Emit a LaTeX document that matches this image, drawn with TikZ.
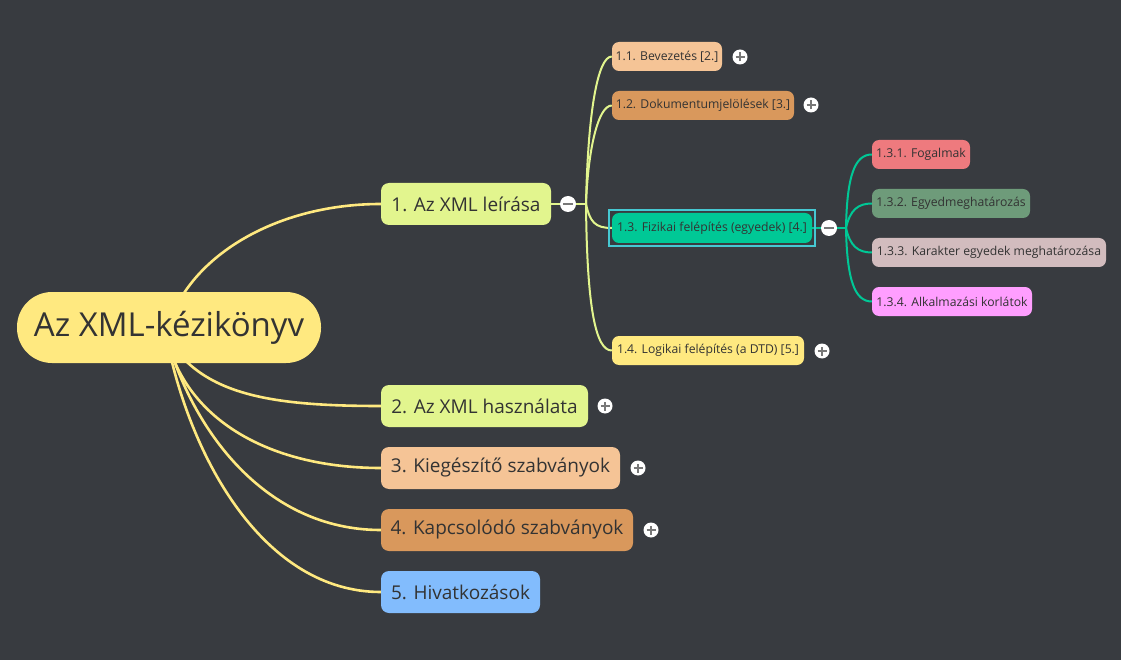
\documentclass[tikz,border=0pt]{standalone}
\usepackage{fontspec}
\setmainfont{Open Sans}
\usetikzlibrary{fit}
\definecolor{bgc}{RGB}{56,59,64}
\definecolor{txt}{RGB}{51,51,51}
\definecolor{rootc}{RGB}{255,233,128}
\definecolor{limec}{RGB}{226,245,142}
\definecolor{peach}{RGB}{245,196,150}
\definecolor{orangec}{RGB}{217,152,92}
\definecolor{bluec}{RGB}{130,188,253}
\definecolor{tealc}{RGB}{0,200,150}
\definecolor{redc}{RGB}{238,122,126}
\definecolor{greenc}{RGB}{110,155,122}
\definecolor{mauvec}{RGB}{210,188,190}
\definecolor{pinkc}{RGB}{255,158,255}
\definecolor{selc}{RGB}{70,200,210}
\definecolor{signc}{RGB}{120,120,120}
\pgfdeclarelayer{bg}
\pgfdeclarelayer{lines}
\pgfsetlayers{bg,lines,main}
\begin{document}
\begin{tikzpicture}[x=1pt,y=-1pt,
  rootbox/.style={fill=rootc, rounded corners=35pt, inner sep=0pt, text=txt,
    minimum width=304pt, minimum height=71pt, font=\fontsize{33}{38}\selectfont},
  bigbox/.style={rounded corners=8pt, inner sep=0pt, text=txt,
    minimum height=42pt, font=\fontsize{19}{22}\selectfont},
  smallbox/.style={rounded corners=7pt, inner sep=0pt, text=txt,
    minimum height=29pt, font=\fontsize{12.2}{14}\selectfont},
  rootline/.style={draw=rootc, line width=2.6pt},
  limeline/.style={draw=limec, line width=2pt},
  tealline/.style={draw=tealc, line width=2pt},
  plusbtn/.style={circle, fill=white, minimum size=15pt, inner sep=0pt,
    path picture={\draw[signc, line width=2pt]
      ([xshift=-4.5pt]path picture bounding box.center) -- ([xshift=4.5pt]path picture bounding box.center)
      ([yshift=-4.5pt]path picture bounding box.center) -- ([yshift=4.5pt]path picture bounding box.center);}},
  minusbtn/.style={circle, fill=white, minimum size=16pt, inner sep=0pt,
    path picture={\draw[signc, line width=2pt]
      ([xshift=-5pt]path picture bounding box.center) -- ([xshift=5pt]path picture bounding box.center);}}
]
\useasboundingbox (0,0) rectangle (1121,660);
\begin{pgfonlayer}{bg}
  \fill[bgc] (0,0) rectangle (1121,660);
\end{pgfonlayer}

% nodes
\node[rootbox] (root) at (169,327.5) {Az XML-kézikönyv};
\node[bigbox, fill=limec, minimum width=170pt] (n1) at (466,204) {1. Az XML leírása};
\node[bigbox, fill=limec, minimum width=207pt] (n2) at (484.5,406) {2. Az XML használata};
\node[bigbox, fill=peach, minimum width=239pt] (n3) at (500.5,468) {3. Kiegészítő szabványok};
\node[bigbox, fill=orangec, minimum width=252pt] (n4) at (507,530) {4. Kapcsolódó szabványok};
\node[bigbox, fill=bluec, minimum width=159pt] (n5) at (460.5,592) {5. Hivatkozások};

\node[smallbox, fill=peach, minimum width=110pt] (n11) at (667,56.5) {1.1. Bevezetés [2.]};
\node[smallbox, fill=orangec, minimum width=182pt] (n12) at (703,105.5) {1.2. Dokumentumjelölések [3.]};
\node[smallbox, fill=tealc, minimum width=200pt, minimum height=30pt] (n13) at (712,228) {1.3. Fizikai felépítés (egyedek) [4.]};
\node[smallbox, fill=rootc, minimum width=192pt] (n14) at (708,350.5) {1.4. Logikai felépítés (a DTD) [5.]};

\node[smallbox, fill=redc, minimum width=98pt] (n131) at (921,154.5) {1.3.1. Fogalmak};
\node[smallbox, fill=greenc, minimum width=158pt] (n132) at (951,203.5) {1.3.2. Egyedmeghatározás};
\node[smallbox, fill=mauvec, minimum width=234pt] (n133) at (989,252.5) {1.3.3. Karakter egyedek meghatározása};
\node[smallbox, fill=pinkc, minimum width=160pt] (n134) at (952,301.5) {1.3.4. Alkalmazási korlátok};

\node[draw=selc, line width=2pt, inner sep=3pt, fit=(n13)] (sel) {};

% buttons
\node[minusbtn] (m1) at (568,204) {};
\node[minusbtn] (m13) at (829,228) {};
\node[plusbtn] (p11) at (740,57) {};
\node[plusbtn] (p12) at (811,105) {};
\node[plusbtn] (p14) at (822,351) {};
\node[plusbtn] (p2) at (605,406) {};
\node[plusbtn] (p3) at (638,468) {};
\node[plusbtn] (p4) at (651,530) {};

\coordinate (rs) at (166,335);
\coordinate (b1) at (586,204);
\coordinate (b2) at (846,228);

\begin{pgfonlayer}{lines}
  \draw[rootline] (rs) .. controls (182,262) and (270,204) .. (n1.west);
  \draw[rootline] (rs) .. controls (200,395) and (270,406) .. (n2.west);
  \draw[rootline] (rs) .. controls (185,420) and (270,468) .. (n3.west);
  \draw[rootline] (rs) .. controls (192,430) and (265,530) .. (n4.west);
  \draw[rootline] (rs) .. controls (190,460) and (265,592) .. (n5.west);

  \draw[limeline] (n1.east) -- (m1) -- (b1);
  \draw[limeline] (b1) .. controls (588,110) and (598,56.5) .. (n11.west);
  \draw[limeline] (b1) .. controls (588,150) and (598,105.5) .. (n12.west);
  \draw[limeline] (b1) .. controls (590,222) and (595,228) .. (n13.west);
  \draw[limeline] (b1) .. controls (587,310) and (596,350.5) .. (n14.west);

  \draw[tealline] (n13.east) -- (m13) -- (b2);
  \draw[tealline] (b2) .. controls (847,175) and (855,154.5) .. (n131.west);
  \draw[tealline] (b2) .. controls (850,210) and (858,203.5) .. (n132.west);
  \draw[tealline] (b2) .. controls (850,246) and (858,252.5) .. (n133.west);
  \draw[tealline] (b2) .. controls (847,281) and (855,301.5) .. (n134.west);
\end{pgfonlayer}
\end{tikzpicture}
\end{document}
